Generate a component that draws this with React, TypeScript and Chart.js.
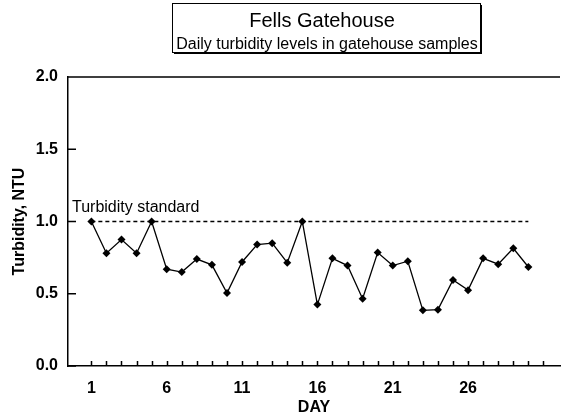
import React, { useEffect, useRef } from "react";
import { Chart, registerables } from "chart.js";

Chart.register(...registerables);

const TITLE = "Fells Gatehouse";
const SUBTITLE = "Daily turbidity levels in gatehouse samples";
const X_TITLE = "DAY";
const Y_TITLE = "Turbidity, NTU";
const STANDARD_LABEL = "Turbidity standard";

const DAYS = [1, 2, 3, 4, 5, 6, 7, 8, 9, 10, 11, 12, 13, 14, 15, 16, 17, 18, 19, 20, 21, 22, 23, 24, 25, 26, 27, 28, 29, 30];
const TURBIDITY = [1.0, 0.78, 0.875, 0.78, 1.0, 0.67, 0.65, 0.74, 0.7, 0.505, 0.72, 0.84, 0.85, 0.715, 1.0, 0.425, 0.745, 0.695, 0.465, 0.785, 0.695, 0.725, 0.385, 0.39, 0.595, 0.525, 0.745, 0.705, 0.815, 0.685];

const STANDARD_VALUE = 1.0;
const STANDARD_DAYS = [1, 30];

const X_TICK_DAYS = [1, 2, 3, 4, 5, 6, 7, 8, 9, 10, 11, 12, 13, 14, 15, 16, 17, 18, 19, 20, 21, 22, 23, 24, 25, 26, 27, 28, 29, 30, 31];
const X_LABELED_DAYS = [1, 6, 11, 16, 21, 26];
const Y_TICKS = [0, 0.5, 1.0, 1.5, 2.0];

const FONT = "'Liberation Sans', Arial, Helvetica, sans-serif";

const decorPlugin = {
  id: "decor",
  afterDraw(chart: any) {
    const { ctx, chartArea: a, scales } = chart;
    const xs = scales.x;
    const ys = scales.y;
    ctx.save();
    ctx.strokeStyle = "#000";
    ctx.lineWidth = 1.5;
    ctx.beginPath();
    ctx.moveTo(a.left, a.top);
    ctx.lineTo(a.right, a.top);
    X_TICK_DAYS.forEach((d) => {
      const x = Math.round(xs.getPixelForValue(d)) + 0.5;
      ctx.moveTo(x, a.bottom);
      ctx.lineTo(x, a.bottom - 5);
    });
    Y_TICKS.forEach((v) => {
      const y = ys.getPixelForValue(v);
      ctx.moveTo(a.left, y);
      ctx.lineTo(a.left + 8, y);
    });
    ctx.stroke();

    // standard annotation
    ctx.fillStyle = "#000";
    ctx.font = `16px ${FONT}`;
    ctx.textAlign = "left";
    ctx.textBaseline = "alphabetic";
    ctx.fillText(STANDARD_LABEL, a.left + 4, ys.getPixelForValue(STANDARD_VALUE) - 10);

    // title box
    const boxL = 172;
    const boxR = 480;
    const boxT = 3;
    const boxB = 52;
    ctx.fillStyle = "#000";
    ctx.fillRect(boxL + 2, boxT + 2, boxR - boxL, boxB - boxT);
    ctx.fillStyle = "#fff";
    ctx.fillRect(boxL, boxT, boxR - boxL, boxB - boxT);
    ctx.lineWidth = 1;
    ctx.strokeStyle = "#000";
    ctx.strokeRect(boxL + 0.5, boxT + 0.5, boxR - boxL, boxB - boxT);
    ctx.fillStyle = "#000";
    ctx.textAlign = "center";
    ctx.font = `20px ${FONT}`;
    ctx.fillText(TITLE, 322, 26.5);
    ctx.font = `16px ${FONT}`;
    ctx.fillText(SUBTITLE, (boxL + boxR) / 2 + 1, 49);
    ctx.restore();
  },
};

export default function App() {
  const canvasRef = useRef<HTMLCanvasElement | null>(null);

  useEffect(() => {
    if (!canvasRef.current) return;
    const mainData = DAYS.map((d, i) => ({ x: d, y: TURBIDITY[i] }));
    const standardData = STANDARD_DAYS.map((d) => ({ x: d, y: STANDARD_VALUE }));
    const chart = new Chart(canvasRef.current, {
      type: "line",
      data: {
        datasets: [
          {
            label: "Turbidity",
            data: mainData,
            borderColor: "#000",
            backgroundColor: "#000",
            borderWidth: 1.3,
            pointStyle: "rectRot",
            pointRadius: 4,
            pointBorderWidth: 0,
            pointBackgroundColor: "#000",
            tension: 0,
          },
          {
            label: "Standard",
            data: standardData,
            borderColor: "#000",
            borderWidth: 1.5,
            borderDash: [4, 3],
            pointRadius: 0,
            tension: 0,
          },
        ],
      },
      options: {
        responsive: false,
        animation: false,
        devicePixelRatio: 1,
        layout: { padding: { top: 77, left: 0, right: 0, bottom: 0 } },
        plugins: {
          legend: { display: false },
          tooltip: { enabled: false },
          title: { display: false },
        },
        scales: {
          x: {
            type: "linear",
            min: -0.55,
            max: 32.1,
            afterBuildTicks: (scale: any) => {
              scale.ticks = X_TICK_DAYS.map((v) => ({ value: v }));
            },
            afterFit: (scale: any) => {
              scale.height = 51;
            },
            ticks: {
              autoSkip: false,
              maxRotation: 0,
              padding: 13,
              color: "#000",
              font: { family: FONT, size: 16, weight: "bold" },
              callback: (v: any) => (X_LABELED_DAYS.includes(Number(v)) ? String(v) : ""),
            },
            grid: { display: false, drawTicks: false },
            border: { display: true, color: "#000", width: 1.5 },
            title: {
              display: true,
              text: X_TITLE,
              color: "#000",
              font: { family: FONT, size: 16, weight: "bold" },
              padding: { top: 0, bottom: 0 },
            },
          },
          y: {
            type: "linear",
            min: 0,
            max: 2,
            afterBuildTicks: (scale: any) => {
              scale.ticks = Y_TICKS.map((v) => ({ value: v }));
            },
            afterFit: (scale: any) => {
              scale.width = 68;
            },
            ticks: {
              padding: 10,
              color: "#000",
              font: { family: FONT, size: 16, weight: "bold" },
              callback: (v: any) => Number(v).toFixed(1),
            },
            grid: { display: false, drawTicks: false },
            border: { display: true, color: "#000", width: 1.5 },
            title: {
              display: true,
              text: Y_TITLE,
              color: "#000",
              font: { family: FONT, size: 16, weight: "bold" },
              padding: { top: 10, bottom: 0 },
            },
          },
        },
      },
      plugins: [decorPlugin],
    });
    return () => chart.destroy();
  }, []);

  return (
    <div style={{ position: "absolute", left: 0, top: 0, width: 564, height: 417, background: "#fff" }}>
      <canvas ref={canvasRef} width={564} height={417} style={{ display: "block" }} />
    </div>
  );
}
